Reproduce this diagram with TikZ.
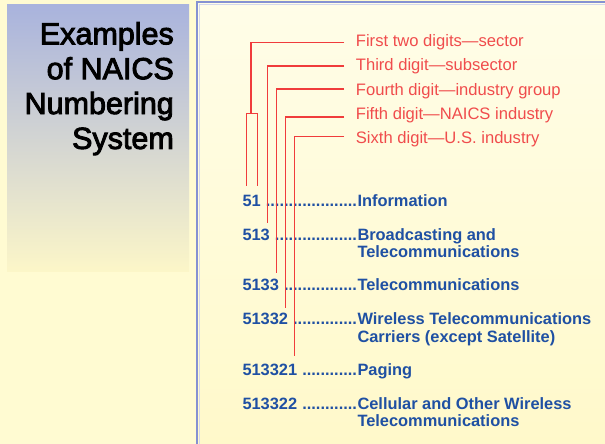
\documentclass[tikz,border=0pt]{standalone}
\usepackage{fontspec}
\setmainfont{Liberation Sans}
\newfontfamily\titlefont[FakeBold=3]{Liberation Sans}
\definecolor{bg}{HTML}{FFFBD2}
\definecolor{paneltop}{HTML}{A9B3DD}
\definecolor{panelmid}{HTML}{D8D8D2}
\definecolor{panelbot}{HTML}{FCF6C8}
\definecolor{boxtop}{HTML}{FFFDE8}
\definecolor{boxbot}{HTML}{FFF9CA}
\definecolor{framec}{HTML}{8591D2}
\definecolor{framelt}{HTML}{D4D8EE}
\definecolor{lblc}{HTML}{F04C4C}
\definecolor{linec}{HTML}{F03C3C}
\definecolor{codec}{HTML}{1F50A3}
\newcommand\numlead[1]{\makebox[115pt][l]{#1 \cleaders\hbox{.}\hfill}}
\begin{document}
\begin{tikzpicture}[x=1pt,y=-1pt,
  titletext/.style={anchor=base east, inner sep=0pt, font=\titlefont\fontsize{30.5}{34}\selectfont},
  lbltext/.style={anchor=base west, inner sep=0pt, text=lblc, font=\fontsize{16.6}{20}\selectfont},
  codetext/.style={anchor=base west, inner sep=0pt, text=codec, font=\bfseries\fontsize{16.4}{17}\selectfont},
  leadline/.style={draw=linec, line width=1.3pt}]
\useasboundingbox (0,0) rectangle (605,444);
\fill[bg] (0,0) rectangle (605,444);
% left title panel
\shade[top color=paneltop, middle color=panelmid, bottom color=panelbot] (7,5) rectangle (189,271.7);
% right panel
\shade[top color=boxtop, bottom color=boxbot] (197,3) rectangle (605,444);
\draw[framelt, line width=1pt] (199,446) -- (199,5) -- (607,5);
\draw[framec, line width=2pt] (196.7,446) -- (196.7,2.5) -- (607,2.5);
% title
\node[titletext] (t1) at (174,44.3) {Examples};
\node[titletext] (t2) at (174,79.2) {of NAICS};
\node[titletext] (t3) at (174,114) {Numbering};
\node[titletext] (t4) at (174,148.9) {System};
% red labels
\node[lbltext] (r1) at (355.7,46.7) {First two digits—sector};
\node[lbltext] (r2) at (355.7,70.9) {Third digit—subsector};
\node[lbltext] (r3) at (355.7,95.1) {Fourth digit—industry group};
\node[lbltext] (r4) at (355.7,119.3) {Fifth digit—NAICS industry};
\node[lbltext] (r5) at (355.7,143.5) {Sixth digit—U.S. industry};
% codes
\node[codetext] (b1) at (242.3,206.7) {\numlead{51}};
\node[codetext] (b2) at (242.3,240.7) {\numlead{513}};
\node[codetext] (b3) at (242.3,290.7) {\numlead{5133}};
\node[codetext] (b4) at (242.3,324) {\numlead{51332}};
\node[codetext] (b5) at (242.3,375.7) {\numlead{513321}};
\node[codetext] (b6) at (242.3,409) {\numlead{513322}};
% descriptions
\node[codetext] (d1) at (357.3,206.7) {Information};
\node[codetext] (d2) at (357.3,240.7) {Broadcasting and};
\node[codetext] (d2b) at (357.3,257.7) {Telecommunications};
\node[codetext] (d3) at (357.3,290.7) {Telecommunications};
\node[codetext] (d4) at (357.3,324) {Wireless Telecommunications};
\node[codetext] (d4b) at (357.3,342) {Carriers (except Satellite)};
\node[codetext] (d5) at (357.3,375.7) {Paging};
\node[codetext] (d6) at (357.3,409) {Cellular and Other Wireless};
\node[codetext] (d6b) at (357.3,426) {Telecommunications};
% connector points
\coordinate (h1) at (344,42.7);
\coordinate (h2) at (344,66);
\coordinate (h3) at (344,89);
\coordinate (h4) at (344,117);
\coordinate (h5) at (344,136.5);
\coordinate (k1) at (251,113.3);
\coordinate (e1a) at (246.7,185.7);
\coordinate (e1b) at (257.3,185.7);
\coordinate (e2) at (267.7,223.3);
\coordinate (e3) at (276.3,273.3);
\coordinate (e4) at (285.7,307.7);
\coordinate (e5) at (294.3,355.7);
% leader lines
\draw[leadline] (h1) -| (k1);
\draw[leadline] (e1a) |- (k1) -| (e1b);
\draw[leadline] (h2) -| (e2);
\draw[leadline] (h3) -| (e3);
\draw[leadline] (h4) -| (e4);
\draw[leadline] (h5) -| (e5);
\end{tikzpicture}
\end{document}
